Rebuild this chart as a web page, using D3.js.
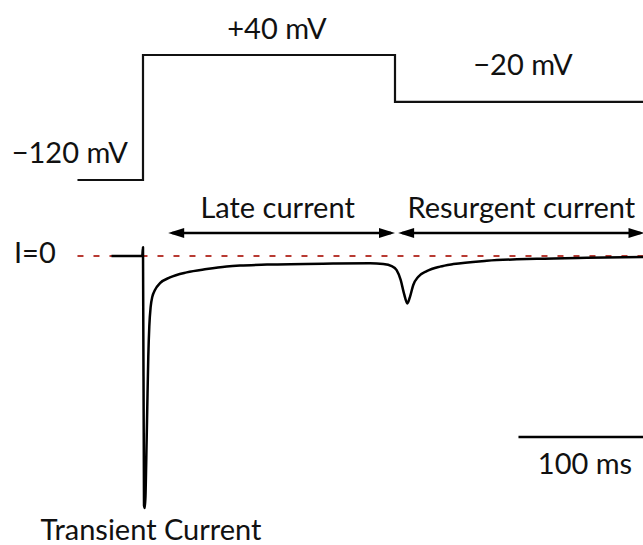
<!DOCTYPE html>
<html>
<head>
<meta charset="utf-8">
<script src="https://cdn.jsdelivr.net/npm/d3@7"></script>
<style>
  html, body { margin: 0; padding: 0; background: #fff; }
  svg { display: block; }
  text { font-family: Lato, "Open Sans", sans-serif; fill: #111; }
</style>
</head>
<body>
<svg id="chart" width="643" height="545"></svg>
<script>
// ---- Data ----
// Voltage protocol (ms, mV)
const voltTimes  = [-52, 0, 200, 400];
const voltLevels = [-120, 40, -20, -20];
const voltLabels = ["\u2212120 mV", "+40 mV", "\u221220 mV"];

// Sodium current trace (ms, normalized current, peak = -100)
const currTimes  = [-25, -0.6, 0, 0.8, 1.5, 2.9, 3.4, 4.2, 5.0, 6.1, 7.4, 9.5, 13.5, 21.4, 34.7, 50.6, 66.4, 77, 98.4, 150.8, 180.2, 190.7, 197.4, 201.3, 204.5, 207.1, 209.8, 211.9, 214.5, 218.5, 225.2, 235.7, 246.3, 272.8, 312.5, 352.1, 397];
const currValues = [0, 0, 3.5, -99, -100, -73, -59.8, -40, -28, -20.1, -16.2, -13.5, -10.8, -8.5, -6.5, -5.2, -4.2, -3.8, -3.4, -3.0, -2.9, -3.2, -4.0, -5.6, -9.5, -14.8, -18.8, -16.2, -11.5, -8.2, -6.0, -4.2, -3.2, -1.9, -1.1, -0.7, -0.4];

// Phase annotations (ms spans)
const phaseNames  = ["Late current", "Resurgent current"];
const phaseStarts = [20, 202.5];
const phaseEnds   = [200, 398];

const zeroLabel = "I=0";
const zeroStart = -52;
const transientLabel = "Transient Current";
const scaleBarMs = 100;
const scaleBarEnd = 398;
const scaleBarLabel = "100 ms";

// ---- Scales ----
const svg = d3.select("#chart");
const x  = d3.scaleLinear().domain([0, 200]).range([143, 395]);
const yV = d3.scaleLinear().domain([-120, 40]).range([180, 55]);
const yI = d3.scaleLinear().domain([-100, 0]).range([508, 256]);

// ---- Voltage step protocol ----
const vData = voltTimes.map((t, i) => ({t, v: voltLevels[i]}));
svg.append("path")
  .datum(vData)
  .attr("fill", "none")
  .attr("stroke", "#111")
  .attr("stroke-width", 2.2)
  .attr("d", d3.line().x(d => x(d.t)).y(d => yV(d.v)).curve(d3.curveStepAfter));

const fs = 29;
svg.append("text").attr("x", x(voltTimes[1]) - 15).attr("y", yV(voltLevels[0]) - 17)
  .attr("text-anchor", "end").attr("font-size", fs).text(voltLabels[0]);
svg.append("text").attr("x", (x(voltTimes[1]) + x(voltTimes[2])) / 2 + 8).attr("y", yV(voltLevels[1]) - 16)
  .attr("text-anchor", "middle").attr("font-size", fs).text(voltLabels[1]);
svg.append("text").attr("x", (x(voltTimes[2]) + 643) / 2 + 4).attr("y", yV(voltLevels[2]) - 27)
  .attr("text-anchor", "middle").attr("font-size", fs).text(voltLabels[2]);

// ---- Zero-current reference ----
svg.append("line")
  .attr("x1", x(zeroStart)).attr("x2", 643)
  .attr("y1", yI(0)).attr("y2", yI(0))
  .attr("stroke", "#b83a32").attr("stroke-width", 2)
  .attr("stroke-dasharray", "6,10");
svg.append("text").attr("x", 14).attr("y", yI(0) + 7)
  .attr("font-size", fs).text(zeroLabel);

// ---- Current trace ----
const iData = currTimes.map((t, i) => ({t, v: currValues[i]}));
svg.append("path")
  .datum(iData)
  .attr("fill", "none")
  .attr("stroke", "#000")
  .attr("stroke-width", 2.5)
  .attr("stroke-linejoin", "round")
  .attr("d", d3.line().x(d => x(d.t)).y(d => yI(d.v)).curve(d3.curveMonotoneX));

// ---- Phase arrows ----
const arrowY = 233;
const headL = 16, headW = 5;
phaseNames.forEach((name, i) => {
  const x0 = x(phaseStarts[i]), x1 = x(phaseEnds[i]);
  svg.append("line").attr("x1", x0 + 4).attr("x2", x1 - 4)
    .attr("y1", arrowY).attr("y2", arrowY)
    .attr("stroke", "#000").attr("stroke-width", 2.5);
  svg.append("path").attr("fill", "#000")
    .attr("d", `M${x0},${arrowY}L${x0 + headL},${arrowY - headW}L${x0 + headL},${arrowY + headW}Z`);
  svg.append("path").attr("fill", "#000")
    .attr("d", `M${x1},${arrowY}L${x1 - headL},${arrowY - headW}L${x1 - headL},${arrowY + headW}Z`);
  svg.append("text").attr("x", (x0 + x1) / 2 + (i === 0 ? -4 : 0)).attr("y", 218)
    .attr("text-anchor", "middle").attr("font-size", fs).text(name);
});

// ---- Scale bar ----
svg.append("line")
  .attr("x1", x(scaleBarEnd - scaleBarMs)).attr("x2", x(scaleBarEnd))
  .attr("y1", 437).attr("y2", 437)
  .attr("stroke", "#000").attr("stroke-width", 2.5);
svg.append("text").attr("x", 585).attr("y", 474)
  .attr("text-anchor", "middle").attr("font-size", fs).text(scaleBarLabel);

// ---- Transient label ----
svg.append("text").attr("x", 151).attr("y", 540)
  .attr("text-anchor", "middle").attr("font-size", fs).text(transientLabel);
</script>
</body>
</html>
